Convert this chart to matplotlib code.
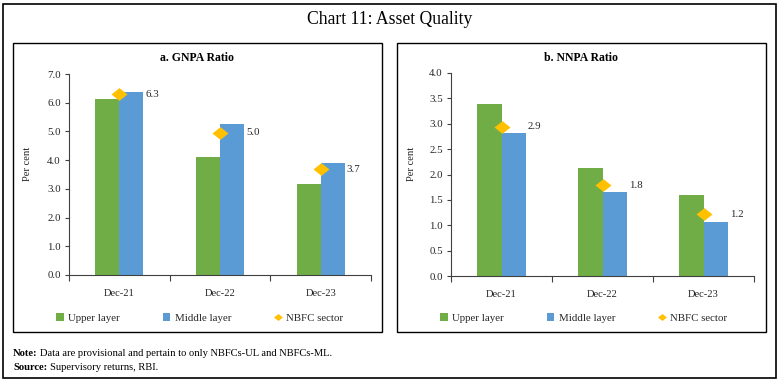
import matplotlib
matplotlib.use("Agg")
import matplotlib.pyplot as plt
from matplotlib.patches import Rectangle

plt.rcParams['font.family'] = ['Liberation Serif', 'DejaVu Serif']

categories = ['Dec-21', 'Dec-22', 'Dec-23']
gnpa_upper = [6.13, 4.10, 3.16]
gnpa_middle = [6.38, 5.27, 3.90]
gnpa_sector = [6.3, 4.96, 3.69]
nnpa_upper = [3.38, 2.13, 1.60]
nnpa_middle = [2.81, 1.66, 1.07]
nnpa_sector = [2.94, 1.79, 1.22]
gnpa_yticks = [0.0, 1.0, 2.0, 3.0, 4.0, 5.0, 6.0, 7.0]
nnpa_yticks = [0.0, 0.5, 1.0, 1.5, 2.0, 2.5, 3.0, 3.5, 4.0]

GREEN = '#70AD47'
BLUE = '#5B9BD5'
GOLD = '#FFC000'
TXT = '#262626'
W, H = 780, 382
fig = plt.figure(figsize=(W / 100, H / 100), dpi=100)

def px_rect(x0, y0, x1, y1):
    return [x0 / W, 1 - y1 / H, (x1 - x0) / W, (y1 - y0) / H]

def box(x0, y0, x1, y1, lw):
    fig.patches.append(Rectangle((x0 / W, 1 - y1 / H), (x1 - x0) / W, (y1 - y0) / H,
                                 transform=fig.transFigure, fill=False,
                                 edgecolor='black', linewidth=lw))

box(3, 4, 776, 378, 1.2)
box(13, 43, 382, 332, 1.0)
box(397, 43, 766, 332, 1.0)

fig.text(390 / W, 1 - 20 / H, 'Chart 11: Asset Quality', ha='center', va='center',
         fontsize=12.7)

diamond = [(-1, 0), (0, 0.8), (1, 0), (0, -0.8), (-1, 0)]

def panel(rect, upper, middle, sector, yticks, title, center_x, ylabel_x):
    ax = fig.add_axes(rect)
    x = list(range(len(categories)))
    bw = 0.24
    b1 = ax.bar([i - bw / 2 for i in x], upper, width=bw, color=GREEN, label='Upper layer')
    b2 = ax.bar([i + bw / 2 for i in x], middle, width=bw, color=BLUE, label='Middle layer')
    ln, = ax.plot(x, sector, ls='none', marker=diamond, ms=11.5, color=GOLD,
                  markeredgewidth=0, label='NBFC sector', zorder=5)
    for i, v in zip(x, sector):
        ax.text(i + bw + 0.02, v, f'{v:.1f}', ha='left', va='center', fontsize=7.8,
                color=TXT)
    ax.set_xlim(-0.5, len(categories) - 0.5)
    ax.set_ylim(yticks[0], yticks[-1])
    ax.set_yticks(yticks)
    ax.set_yticklabels([f'{t:.1f}' for t in yticks])
    ax.set_xticks([i - 0.5 for i in range(len(categories) + 1)])
    ax.set_xticklabels([])
    ax.set_xticks(x, minor=True)
    ax.set_xticklabels(categories, minor=True)
    ax.tick_params(axis='x', which='major', length=4, width=0.8, color='#404040')
    ax.tick_params(axis='x', which='minor', length=0, pad=10, labelsize=7.6,
                   labelcolor=TXT)
    ax.tick_params(axis='y', length=3, width=0.8, color='#404040', labelsize=7.8,
                   labelcolor=TXT, pad=3)
    for s in ['top', 'right']:
        ax.spines[s].set_visible(False)
    for s in ['left', 'bottom']:
        ax.spines[s].set_color('#404040')
        ax.spines[s].set_linewidth(0.8)
    fig.text(center_x / W, 1 - 58 / H, title, ha='center', va='center', fontsize=8.5,
             fontweight='bold')
    fig.text(ylabel_x / W, 1 - 164 / H, 'Per cent', rotation=90, ha='center',
             va='center', fontsize=7.6, color=TXT)
    fig.legend(handles=[b1, b2, ln], loc='center', ncol=3,
               bbox_to_anchor=((center_x + 2) / W, 1 - 318 / H),
               bbox_transform=fig.transFigure,
               frameon=False, fontsize=7.8, handlelength=0.7, handleheight=0.7,
               handletextpad=0.4, columnspacing=3.95, markerscale=0.55,
               labelcolor=TXT)
    return ax

ax1 = panel(px_rect(69, 74, 371, 275), gnpa_upper, gnpa_middle, gnpa_sector,
            gnpa_yticks, 'a. GNPA Ratio', 197.5, 27)
ax2 = panel(px_rect(451, 72.7, 754, 276.3), nnpa_upper, nnpa_middle, nnpa_sector,
            nnpa_yticks, 'b. NNPA Ratio', 581.5, 412)

fig.text(13 / W, 1 - 353 / H, 'Note:', fontsize=7.6, fontweight='bold', va='center')
fig.text(40 / W, 1 - 353 / H, 'Data are provisional and pertain to only NBFCs-UL and NBFCs-ML.',
         fontsize=7.6, va='center')
fig.text(13 / W, 1 - 367 / H, 'Source:', fontsize=7.6, fontweight='bold', va='center')
fig.text(50 / W, 1 - 367 / H, 'Supervisory returns, RBI.', fontsize=7.6, va='center')

fig.savefig('out.png', dpi=100)
